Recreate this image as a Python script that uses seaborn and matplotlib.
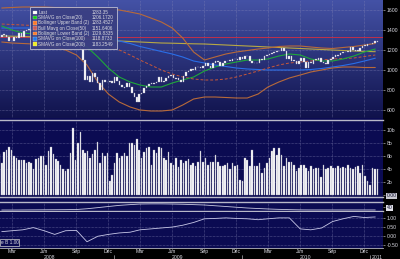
import numpy as np
import pandas as pd
import matplotlib
matplotlib.use("Agg")
import matplotlib.pyplot as plt
import matplotlib.dates as mdates
import matplotlib.transforms as mtrans
import seaborn as sns

# ---------------- data ----------------
close = [1395, 1331, 1349, 1353, 1331, 1294, 1288, 1330, 1316, 1370, 1332, 1390, 1397,
         1414, 1388, 1425, 1375, 1400, 1361, 1360, 1318, 1278, 1262, 1239, 1260, 1257,
         1260, 1296, 1298, 1292, 1283, 1242, 1252, 1255, 1213, 1099, 899, 940, 877, 968,
         931, 873, 800, 896, 876, 879, 887, 873,
         931, 890, 850, 832, 826, 869, 827, 770, 735, 683, 756, 769, 816, 843, 857, 870,
         866, 877, 929, 883, 887, 919, 940, 946, 921, 918, 896, 880, 941, 979, 987, 1010,
         1005, 1026, 1029, 1016, 1042, 1068, 1044, 1025, 1071, 1087, 1080, 1036, 1069,
         1093, 1091, 1091, 1106, 1106, 1102, 1126, 1115,
         1145, 1136, 1092, 1074, 1066, 1075, 1109, 1105, 1138, 1150, 1160, 1167, 1179,
         1194, 1192, 1217, 1187, 1111, 1136, 1088, 1089, 1065, 1092, 1117, 1076, 1022,
         1078, 1065, 1102, 1102, 1122, 1079, 1071, 1065, 1105, 1110, 1126, 1149, 1146,
         1166, 1176, 1183, 1183, 1226, 1200, 1199, 1190, 1225, 1240, 1244, 1256, 1258,
         1272, 1293, 1283]

volume_b = [7.0, 6.3, 5.0, 6.6, 7.0, 7.5, 7.0, 6.0, 5.7, 5.5, 5.5, 5.5, 5.0, 5.1, 5.0,
            4.0, 5.6, 5.7, 6.0, 6.1, 4.7, 6.8, 7.5, 6.3, 5.6, 5.3, 4.7, 4.0, 3.8, 4.1,
            6.5, 10.3, 5.5, 8.1, 9.7, 7.0, 6.5, 6.8, 5.7, 6.3, 7.0,
            8.2, 5.0, 6.5, 6.0, 6.5, 2.2, 3.2, 5.0, 6.5, 5.7, 6.0, 6.5, 6.0, 8.0, 8.1,
            7.7, 8.7, 7.0, 5.7, 6.7, 7.3, 7.5, 4.7, 7.0, 6.5, 7.5, 7.3, 5.7, 5.5, 6.7,
            5.0, 4.7, 5.7, 4.3, 5.5, 5.0, 5.3, 5.6, 4.7, 5.0, 4.5,
            5.2, 6.8, 5.2, 5.7, 4.7, 5.2, 5.2, 6.2, 5.2, 4.5, 4.5, 4.7, 5.0, 4.0, 5.0,
            4.5, 4.7, 2.4, 2.2, 5.7, 5.5, 4.5, 7.0, 4.5, 4.5, 5.0, 3.5, 4.2, 5.0, 5.7,
            6.8, 7.3, 6.2, 7.3, 6.2, 4.5, 5.7, 5.2, 5.2, 4.7, 3.7, 4.2, 4.7, 4.7, 4.2,
            3.7, 4.5, 4.0, 4.2, 4.2, 2.9, 4.7, 4.0, 4.2, 4.5, 4.2, 4.2, 4.5, 4.2, 4.3,
            4.2, 4.7, 4.2, 4.0, 4.3, 4.5, 3.5, 4.6, 3.0, 2.2, 1.6, 4.2, 4.0, 4.0]

# monthly readings (mid-month) of the study lines, Feb 2008 .. Jan 2011
sma20 = [1440, 1400, 1370, 1360, 1370, 1350, 1310, 1290, 1230, 1130, 1020, 930, 880,
         850, 830, 830, 870, 900, 930, 990, 1030, 1060, 1080, 1100, 1100, 1110, 1140,
         1160, 1150, 1110, 1090, 1090, 1110, 1140, 1180, 1210]
boll_up = [1620, 1625, 1630, 1630, 1630, 1625, 1625, 1620, 1620, 1620, 1615, 1600,
           1580, 1560, 1520, 1480, 1420, 1320, 1180, 1100, 1130, 1160, 1180, 1195,
           1210, 1220, 1235, 1240, 1240, 1230, 1220, 1215, 1225, 1235, 1250, 1265]
mavg50 = [1460, 1455, 1450, 1445, 1440, 1420, 1400, 1385, 1350, 1300, 1250, 1200,
          1150, 1100, 1050, 1000, 960, 930, 910, 900, 900, 910, 930, 960, 990, 1020,
          1050, 1070, 1080, 1090, 1100, 1110, 1115, 1120, 1135, 1150]
boll_lo = [1280, 1270, 1265, 1260, 1250, 1230, 1200, 1150, 1050, 880, 760, 680, 630,
           600, 590, 590, 600, 650, 710, 730, 730, 725, 720, 720, 760, 830, 880, 920,
           950, 980, 1000, 1020, 1030, 1030, 1025, 1025]
sma100 = [1420, 1420, 1420, 1420, 1415, 1405, 1395, 1385, 1365, 1340, 1315, 1290,
          1265, 1235, 1210, 1185, 1160, 1130, 1090, 1070, 1050, 1035, 1020, 1010,
          1005, 1000, 1000, 1000, 1000, 1005, 1015, 1030, 1045, 1065, 1090, 1118]
sma200 = [1340, 1338, 1335, 1332, 1330, 1325, 1320, 1315, 1310, 1300, 1295, 1290,
          1285, 1280, 1275, 1270, 1268, 1265, 1262, 1260, 1255, 1250, 1245, 1240,
          1235, 1230, 1225, 1220, 1215, 1210, 1205, 1200, 1195, 1190, 1186, 1183]
level_line = 1330
small_study = [36.3, 36.3, 36.4, 36.5, 36.6, 36.7, 36.8, 37.0, 38.0, 39.5, 41.0, 42.5,
               43.5, 44.3, 44.5, 44.5, 44.3, 44.0, 43.5, 43.0, 42.0, 41.0, 40.0, 39.0,
               38.3, 37.7, 37.2, 36.8, 36.5, 36.4, 36.4, 36.4, 36.4, 36.4, 36.4, 36.4]
corr = [0.25, 0.30, 0.35, 0.47, 0.30, 0.10, 0.30, 0.32, -0.30, 0.00, 0.10, 0.18, 0.22,
        0.35, 0.40, 0.45, 0.50, 0.60, 0.75, 0.95, 0.97, 1.00, 0.97, 0.95, 0.90, 0.95,
        1.00, 1.00, 0.40, 0.35, 0.45, 0.80, 0.95, 1.08, 1.02, 1.05]

legend_names = ["Last", "SMAVG on Close(20)", "Bollinger Upper Band (2)",
                "Bull Mavg on Close(50)", "Bollinger Lower Band (2)",
                "SMAVG on Close(100)", "SMAVG on Close(200)"]
legend_values = ["1283.35", "1206.1720", "1283.4527", "1151.6406", "1029.8335",
                 "1118.8733", "1183.2549"]
price_ticks = [600, 800, 1000, 1200, 1400, 1600]
vol_ticks = [0, 2, 4, 6, 8, 10]
vol_labels = ["0.00", "2b", "4b", "6b", "8b", "10b"]
corr_ticks = [1.0, 0.5, 0.0, -0.5]
corr_labels = ["1.00", "0.50", "0.00", "-0.50"]
month_labels = ["Mar", "Jun", "Sep", "Dec"]
years = ["2008", "2009", "2010", "2011"]

# ---------------- setup ----------------
sns.set_theme(style="dark")
plt.rcParams["font.family"] = ["Liberation Sans", "DejaVu Sans"]

W, H = 400, 259
fig = plt.figure(figsize=(4.0, 2.59), dpi=100)
fig.patch.set_facecolor("black")

weeks = pd.date_range(end="2011-01-21", periods=len(close), freq="W-FRI")
months = pd.date_range("2008-02-01", periods=len(sma20), freq="MS") + pd.Timedelta(days=14)

x_left = pd.Timestamp("2008-02-10")
x_right = pd.Timestamp("2011-02-06")

NAVY = "#0b0b52"
GRID = "#8a8ab8"
SEP = "#b8b8c8"
TXT = "#d8d8e0"
FS = 3.7


def add_ax(x0, y0, x1, y1):
    return fig.add_axes([x0 / W, 1 - y1 / H, (x1 - x0) / W, (y1 - y0) / H])


def style_ax(ax, face=NAVY):
    ax.set_facecolor(face)
    ax.set_xlim(x_left, x_right)
    for s in ax.spines.values():
        s.set_visible(False)
    ax.yaxis.tick_right()
    ax.tick_params(axis="y", colors=TXT, labelsize=FS, length=1.5, width=0.4, pad=1)
    ax.tick_params(axis="x", bottom=False, labelbottom=False)
    ax.set_xlabel("")
    ax.set_ylabel("")


tick_dates = [pd.Timestamp(f"{y}-{m:02d}-15") for y in (2008, 2009, 2010) for m in (3, 6, 9, 12)]


def vgrid(ax):
    for d in tick_dates:
        ax.axvline(d, color=GRID, lw=0.4, ls=(0, (1, 1.5)), zorder=1)


# base navy panel for lower region
base = add_ax(0, 118, 383, 248)
base.set_facecolor(NAVY)
base.set_xticks([]); base.set_yticks([])
for s in base.spines.values():
    s.set_visible(False)

# ---------------- main price panel ----------------
ax = add_ax(0, 0, 383, 118)
style_ax(ax)
ax.set_ylim(520, 1700)
grad = np.linspace(0, 1, 256).reshape(-1, 1)
top_c = np.array([0x44, 0x52, 0xa6]) / 255
bot_c = np.array([0x10, 0x12, 0x4c]) / 255
img = top_c * (1 - grad[..., None]) + bot_c * grad[..., None]
ax.imshow(img, extent=[0, 1, 0, 1], transform=ax.transAxes, aspect="auto", zorder=0)
vgrid(ax)
for t in price_ticks:
    ax.axhline(t, color=GRID, lw=0.4, ls=(0, (1, 1.5)), zorder=1)
ax.set_yticks(price_ticks)
ax.set_yticklabels([str(t) for t in price_ticks])

ax.axhline(level_line, color="#c0304a", lw=0.7, zorder=2)
sns.lineplot(x=months, y=sma200, ax=ax, color="#b8a845", lw=0.8, zorder=3, legend=False)
sns.lineplot(x=months, y=sma100, ax=ax, color="#2a6ee8", lw=0.8, zorder=3, legend=False)
sns.lineplot(x=months, y=boll_up, ax=ax, color="#b86a3a", lw=0.8, zorder=3, legend=False)
sns.lineplot(x=months, y=boll_lo, ax=ax, color="#b86a3a", lw=0.8, zorder=3, legend=False)
sns.lineplot(x=months, y=mavg50, ax=ax, color="#c8583a", lw=0.7, ls=(0, (3, 2)), zorder=3, legend=False)
sns.lineplot(x=months, y=sma20, ax=ax, color="#1fa83a", lw=0.8, zorder=3, legend=False)

c = np.array(close, dtype=float)
o = np.r_[c[0], c[:-1]]
h = c - o
h = np.where(np.abs(h) < 8, np.where(h >= 0, 8, -8), h)
ax.bar(weeks, h, bottom=o, width=4.5, color="white", edgecolor="#a8a8c0", linewidth=0.25, zorder=4)
ax.set_xlim(x_left, x_right)
ax.set_ylim(520, 1700)
ax.set_xlabel(""); ax.set_ylabel("")

# legend box
def px2ax(px, py):
    return px / 383, 1 - py / 118

lx0, ly0 = px2ax(30, 48.5)
lx1, ly1 = px2ax(116.5, 7)
ax.add_patch(plt.Rectangle((lx0, ly0), lx1 - lx0, ly1 - ly0, transform=ax.transAxes,
                           facecolor="#3a3f82", edgecolor="#c8c8d8", lw=0.6, alpha=0.92, zorder=6))
colors = ["white", "#10d010", "#ff7a28", "#c85a5a", "#ff7a28", "#1e78f0", "#f0f020"]
row_y = [12.3, 17.6, 22.9, 28.2, 33.5, 38.8, 44.1]
for nm, val, col, ry in zip(legend_names, legend_values, colors, row_y):
    bx, by = px2ax(33, ry + 1.8)
    bw = 3.6 / 383
    bh = 3.6 / 118
    ax.add_patch(plt.Rectangle((bx, by), bw, bh, transform=ax.transAxes, facecolor=col,
                               edgecolor="#e0e0e0", lw=0.2, zorder=7))
    tx, ty = px2ax(38.5, ry)
    ax.text(tx, ty, nm, transform=ax.transAxes, color=TXT, fontsize=3.3, va="center", ha="left", zorder=7)
    vx, _ = px2ax(92, ry)
    ax.text(vx, ty, val, transform=ax.transAxes, color=TXT, fontsize=3.3, va="center", ha="left", zorder=7)

# ---------------- volume panel ----------------
axv = add_ax(0, 120, 383, 197)
style_ax(axv)
vgrid(axv)
for t in vol_ticks[1:]:
    axv.axhline(t, color=GRID, lw=0.4, ls=(0, (1, 1.5)), zorder=1)
axv.bar(weeks, volume_b, width=4.5, color="white", edgecolor="#9a9ab0", linewidth=0.25, zorder=3)
axv.set_xlim(x_left, x_right)
axv.set_ylim(-0.25, 11.6)
axv.set_yticks(vol_ticks)
axv.set_yticklabels(vol_labels)
for s in ("top", "bottom"):
    axv.spines[s].set_visible(True)
    axv.spines[s].set_color(SEP)
    axv.spines[s].set_linewidth(1.0)
lab0 = axv.get_yticklabels()[0]
lab0.set_bbox(dict(facecolor="#c8c8d0", edgecolor="none", pad=0.4))
lab0.set_color("#101030")

# ---------------- small study panel ----------------
axs = add_ax(0, 202, 383, 211)
style_ax(axs)
vgrid(axs)
sns.lineplot(x=months, y=small_study, ax=axs, color="#c8c8e0", lw=0.6, legend=False)
axs.set_xlim(x_left, x_right)
axs.set_ylim(35, 47)
axs.set_yticks([40])
axs.set_yticklabels(["40"])
axs.set_xlabel(""); axs.set_ylabel("")
for s in ("top", "bottom"):
    axs.spines[s].set_visible(True)
    axs.spines[s].set_color(SEP)
    axs.spines[s].set_linewidth(1.0)
l40 = axs.get_yticklabels()[0]
l40.set_bbox(dict(facecolor="#e0e0e8", edgecolor="none", pad=0.4))
l40.set_color("#101030")

# ---------------- correlation panel ----------------
axc = add_ax(0, 212, 383, 248)
style_ax(axc)
vgrid(axc)
for t in corr_ticks:
    axc.axhline(t, color=GRID, lw=0.4, ls=(0, (1, 1.5)), zorder=1)
sns.lineplot(x=months, y=corr, ax=axc, color="#c8c8e8", lw=0.6, legend=False)
axc.set_xlim(x_left, x_right)
axc.set_ylim(-0.64, 1.32)
axc.set_yticks(corr_ticks)
axc.set_yticklabels(corr_labels)
axc.set_xlabel(""); axc.set_ylabel("")
axc.spines["bottom"].set_visible(True)
axc.spines["bottom"].set_color(SEP)
axc.spines["bottom"].set_linewidth(0.6)
axc.text(0.002, 0.16, "e B 1.00", transform=axc.transAxes, fontsize=3.4, color=TXT,
         va="center", ha="left", zorder=8,
         bbox=dict(facecolor=NAVY, edgecolor="#d0d0d0", lw=0.5, pad=0.6))

# x labels (months and years)
trans = mtrans.blended_transform_factory(axc.transData, axc.transAxes)
for d in tick_dates:
    axc.text(d, -0.1, month_labels[[3, 6, 9, 12].index(d.month)], transform=trans,
             fontsize=FS, color=TXT, ha="center", va="center", clip_on=False)
    axc.plot([d, d], [-0.02, -0.06], transform=trans, color=TXT, lw=0.4, clip_on=False)
for y in (2008, 2009, 2010):
    axc.text(pd.Timestamp(f"{y}-07-01"), -0.27, str(y), transform=trans,
             fontsize=FS, color=TXT, ha="center", va="center", clip_on=False)
for y in (2009, 2010, 2011):
    axc.plot([pd.Timestamp(f"{y}-01-01")] * 2, [-0.2, -0.32], transform=trans,
             color=TXT, lw=0.4, clip_on=False)
axc.text(pd.Timestamp("2011-01-06"), -0.27, "2011", transform=trans,
         fontsize=FS, color=TXT, ha="left", va="center", clip_on=False)

fig.savefig("out.png", dpi=100, facecolor=fig.get_facecolor())
